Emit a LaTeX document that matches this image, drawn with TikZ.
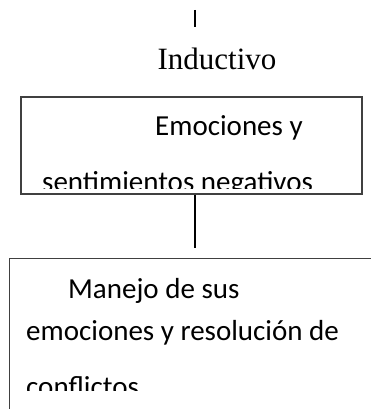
\documentclass[tikz,border=0pt]{standalone}
\usepackage{fontspec}
\newfontfamily\calibri{Carlito}
\newfontfamily\romana{Liberation Serif}
\begin{document}
\begin{tikzpicture}
		[x=1pt,y=-1pt,
		caja/.style={
			rectangle,
			draw=black!75,
			line width=1.4pt,
			inner sep=0pt
		},
		linea/.style={draw=black,line width=1.8pt},
		texto/.style={anchor=base west,inner sep=0pt,font=\calibri\fontsize{29}{35}\selectfont},
		titulo/.style={anchor=base,inner sep=0pt,font=\romana\fontsize{31}{37}\selectfont}]
		\clip (0,0) rectangle (371,409);
		% linea superior
		\coordinate (arriba) at (195,10);
		\coordinate (abajo) at (195,27);
		\draw[linea] (arriba) -- (abajo);
		\node[titulo] (inductivo) at (217,70) {Inductivo};
		% cajas
		\node[caja,minimum width=341pt,minimum height=97pt] (emociones) at (191.5,145.5) {};
		\node[caja,anchor=north west,minimum width=400pt,minimum height=200pt] (manejo) at (9,258) {};
		\coordinate (fin) at (195,248);
		\draw[linea] (emociones.south -| fin) -- (fin);
		% textos
		\begin{scope}
			\clip (21,97) rectangle (362,188);
			\node[texto] (emo1) at (155,135) {Emociones y};
			\node[texto] (emo2) at (42,191) {sentimientos negativos};
		\end{scope}
		\begin{scope}
			\clip (9,258) rectangle (371,390);
			\node[texto] (man1) at (68,298) {Manejo de sus};
			\node[texto] (man2) at (26,340) {emociones y resolución de};
			\node[texto] (man3) at (26,396) {conflictos};
		\end{scope}
	\end{tikzpicture}
\end{document}
